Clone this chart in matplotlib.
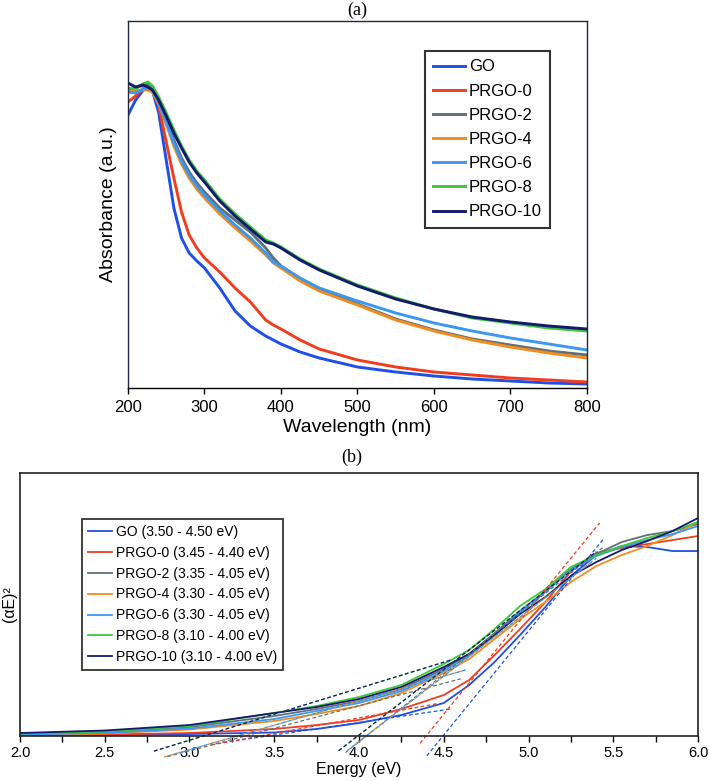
import matplotlib
matplotlib.use('Agg')
from matplotlib import pyplot as plt
import numpy as np

plt.rcParams['font.family'] = ['Liberation Sans', 'DejaVu Sans']

# ---- panel (a): UV-vis absorbance ----
wavelength = [200, 210, 220, 226, 232, 240, 250, 260, 270, 280, 290, 300, 320, 340,
              360, 380, 390, 400, 425, 450, 500, 550, 600, 650, 700, 750, 800]

abs_go     = [2.73, 2.88, 2.98, 3.00, 2.97, 2.76, 2.28, 1.80, 1.50, 1.35, 1.27, 1.20, 1.00, 0.77,
              0.62, 0.52, 0.48, 0.44, 0.36, 0.30, 0.21, 0.16, 0.12, 0.09, 0.07, 0.05, 0.04]
abs_prgo0  = [2.86, 2.92, 3.00, 3.03, 3.00, 2.83, 2.46, 2.10, 1.76, 1.53, 1.40, 1.30, 1.16, 1.00,
              0.86, 0.68, 0.63, 0.59, 0.48, 0.39, 0.28, 0.21, 0.16, 0.13, 0.10, 0.08, 0.06]
abs_prgo2  = [2.98, 3.00, 3.04, 3.05, 3.01, 2.88, 2.68, 2.48, 2.30, 2.16, 2.05, 1.96, 1.80, 1.68,
              1.56, 1.40, 1.30, 1.22, 1.09, 0.99, 0.84, 0.69, 0.58, 0.49, 0.43, 0.37, 0.33]
abs_prgo4  = [2.97, 2.97, 2.98, 2.98, 2.96, 2.84, 2.64, 2.42, 2.24, 2.10, 1.99, 1.90, 1.74, 1.60,
              1.47, 1.33, 1.25, 1.20, 1.07, 0.97, 0.83, 0.68, 0.57, 0.48, 0.41, 0.35, 0.30]
abs_prgo6  = [2.96, 2.95, 2.99, 3.00, 2.98, 2.86, 2.66, 2.45, 2.27, 2.13, 2.02, 1.93, 1.77, 1.63,
              1.50, 1.35, 1.26, 1.22, 1.10, 1.00, 0.87, 0.75, 0.65, 0.57, 0.50, 0.44, 0.38]
abs_prgo8  = [3.00, 2.99, 3.04, 3.06, 3.02, 2.91, 2.75, 2.58, 2.42, 2.28, 2.17, 2.08, 1.89, 1.74,
              1.61, 1.48, 1.45, 1.41, 1.29, 1.19, 1.03, 0.90, 0.79, 0.70, 0.65, 0.60, 0.57]
abs_prgo10 = [3.05, 3.01, 3.03, 3.01, 2.98, 2.88, 2.72, 2.55, 2.40, 2.26, 2.15, 2.06, 1.87, 1.72,
              1.59, 1.46, 1.44, 1.40, 1.28, 1.18, 1.02, 0.89, 0.79, 0.71, 0.66, 0.62, 0.59]

# ---- panel (b): Tauc plot ----
energy = [2.0, 2.5, 3.0, 3.5, 3.75, 4.0, 4.25, 4.5, 4.65, 4.8, 4.95, 5.1, 5.25, 5.4, 5.55, 5.7, 5.85, 6.0]

tauc_go     = [0.0, 0.0, 0.01, 0.025, 0.06, 0.12, 0.20, 0.32, 0.50, 0.73, 1.00, 1.28, 1.59, 1.80, 1.89, 1.88, 1.84, 1.84]
tauc_prgo0  = [0.0, 0.005, 0.02, 0.06, 0.10, 0.15, 0.26, 0.40, 0.55, 0.80, 1.06, 1.33, 1.64, 1.82, 1.87, 1.91, 1.95, 1.99]
tauc_prgo2  = [0.01, 0.03, 0.08, 0.19, 0.26, 0.34, 0.46, 0.66, 0.81, 1.02, 1.24, 1.44, 1.66, 1.81, 1.93, 2.00, 2.04, 2.11]
tauc_prgo4  = [0.0, 0.015, 0.055, 0.14, 0.21, 0.29, 0.42, 0.62, 0.76, 0.96, 1.16, 1.33, 1.53, 1.69, 1.80, 1.89, 2.00, 2.13]
tauc_prgo6  = [0.005, 0.02, 0.065, 0.16, 0.24, 0.32, 0.44, 0.64, 0.79, 1.00, 1.23, 1.43, 1.65, 1.79, 1.88, 1.95, 2.01, 2.09]
tauc_prgo8  = [0.015, 0.035, 0.09, 0.22, 0.29, 0.38, 0.50, 0.71, 0.85, 1.06, 1.29, 1.46, 1.68, 1.80, 1.89, 1.97, 2.04, 2.13]
tauc_prgo10 = [0.02, 0.045, 0.10, 0.22, 0.28, 0.36, 0.48, 0.68, 0.81, 1.00, 1.21, 1.38, 1.59, 1.73, 1.85, 1.94, 2.04, 2.17]

names = ['GO', 'PRGO-0', 'PRGO-2', 'PRGO-4', 'PRGO-6', 'PRGO-8', 'PRGO-10']
colors = ['#1f4fe6', '#f23c1e', '#5f707a', '#f28c1e', '#3a98f2', '#3cc83a', '#141a6e']

# band gap onsets (from the legend) and fitted tangent slopes / extents
gap_low  = [3.50, 3.45, 3.35, 3.30, 3.30, 3.10, 3.10]
gap_high = [4.50, 4.40, 4.05, 4.05, 4.05, 4.00, 4.00]
slope_low  = [0.25, 0.31, 0.45, 0.49, 0.49, 0.52, 0.52]
slope_high = [2.08, 2.08, 1.35, 1.31, 1.31, 1.31, 1.31]
low_span  = [(3.20, 4.55), (3.13, 4.47), (2.87, 4.60), (2.85, 4.63), (2.87, 4.63), (2.79, 4.55), (2.79, 4.55)]
high_span = [(4.40, 5.44), (4.36, 5.42), (3.92, 5.45), (3.95, 5.38), (3.93, 5.40), (3.88, 5.40), (3.88, 5.40)]

absorb = [abs_go, abs_prgo0, abs_prgo2, abs_prgo4, abs_prgo6, abs_prgo8, abs_prgo10]
tauc = [tauc_go, tauc_prgo0, tauc_prgo2, tauc_prgo4, tauc_prgo6, tauc_prgo8, tauc_prgo10]

fig = plt.figure(figsize=(7.09, 7.81), dpi=100)
spine_col = '#1e2840'

# panel (a)
ax1 = fig.add_axes([0.1805, 0.5032, 0.6474, 0.4699])
for q in range(len(names)):
    ax1.plot(wavelength, absorb[q], color=colors[q], lw=2.1, label=names[q])
ax1.set_xlim(200, 800)
ax1.set_ylim(0, 3.67)
ax1.set_xticks([200, 300, 400, 500, 600, 700, 800])
ax1.set_yticks([])
ax1.tick_params(axis='x', direction='out', length=4, width=1, labelsize=12, pad=4.5)
for s in ax1.spines.values():
    s.set_color(spine_col)
    s.set_linewidth(1)
ax1.spines['bottom'].set_color('black')
ax1.set_xlabel('Wavelength (nm)', fontsize=14, labelpad=3)
ax1.set_ylabel('Absorbance (a.u.)', fontsize=14, labelpad=8)
leg1 = ax1.legend(loc='upper left', bbox_to_anchor=(0.647, 0.918), borderaxespad=0,
                  fontsize=12, frameon=True, fancybox=False, handlelength=1.9,
                  handletextpad=0.25, labelspacing=0.55, borderpad=0.5)
leg1.get_frame().set_edgecolor('black')
leg1.get_frame().set_linewidth(1.5)

# panel (b)
ax2 = fig.add_axes([0.0282, 0.0576, 0.9563, 0.3367])
for q in range(len(names)):
    ax2.plot(energy, tauc[q], color=colors[q], lw=1.3,
             label='%s (%.2f - %.2f eV)' % (names[q], gap_low[q], gap_high[q]))
for q in range(len(names)):
    e1 = np.array(low_span[q])
    ax2.plot(e1, slope_low[q] * (e1 - gap_low[q]), color=colors[q], lw=0.9,
             ls=(0, (3, 2)), clip_on=False)
    e2 = np.array(high_span[q])
    ax2.plot(e2, slope_high[q] * (e2 - gap_high[q]), color=colors[q], lw=0.9,
             ls=(0, (3, 2)), clip_on=False)
ax2.set_xlim(2.0, 6.0)
ax2.set_ylim(-0.01, 2.62)
ax2.set_xticks([2.0, 2.5, 3.0, 3.5, 4.0, 4.5, 5.0, 5.5, 6.0])
ax2.set_xticks(np.arange(2.0, 6.01, 0.25), minor=True)
ax2.set_xticklabels(['2.0', '2.5', '3.0', '3.5', '4.0', '4.5', '5.0', '5.5', '6.0'])
ax2.set_yticks([])
ax2.tick_params(axis='x', which='both', direction='out', length=4, width=1,
                labelsize=10.5, pad=3.5)
for s in ax2.spines.values():
    s.set_color('#222222')
    s.set_linewidth(1.2)
ax2.set_xlabel('Energy (eV)', fontsize=11.5, labelpad=1)
ax2.set_ylabel('(αE)²', fontsize=11.5, labelpad=2)
leg2 = ax2.legend(loc='upper left', bbox_to_anchor=(0.0914, 0.825), borderaxespad=0,
                  fontsize=10, frameon=True, fancybox=False, handlelength=1.75,
                  handletextpad=0.3, labelspacing=0.5, borderpad=0.4)
leg2.get_frame().set_edgecolor('black')
leg2.get_frame().set_linewidth(1.3)

fig.text(0.5035, 0.987, '(a)', ha='center', va='center', fontsize=13, family='Liberation Serif')
fig.text(0.4965, 0.415, '(b)', ha='center', va='center', fontsize=13, family='Liberation Serif')

fig.savefig('out.png', dpi=100)
